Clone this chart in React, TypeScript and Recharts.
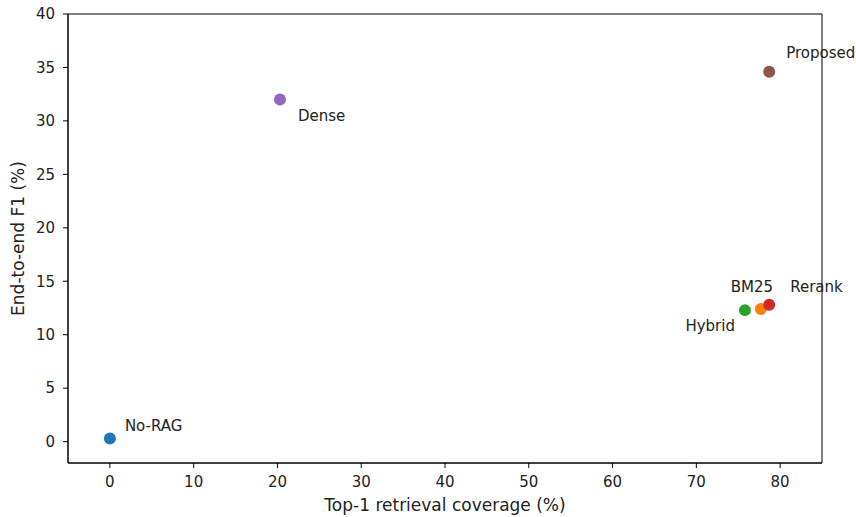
import React from 'react'
import {
  ScatterChart,
  Scatter,
  XAxis,
  YAxis,
  Cell,
  ReferenceArea
} from 'recharts'

const methods = ['No-RAG', 'BM25', 'Hybrid', 'Rerank', 'Dense', 'Proposed']
const coverage = [0, 77.7, 75.8, 78.7, 20.3, 78.7]
const f1 = [0.3, 12.4, 12.3, 12.8, 32.0, 34.6]
const xTicks = [0, 10, 20, 30, 40, 50, 60, 70, 80]
const yTicks = [0, 5, 10, 15, 20, 25, 30, 35, 40]

const colors = ['#1f77b4', '#ff7f0e', '#2ca02c', '#d62728', '#9467bd', '#8c564b']

// where each annotation sits relative to its dot (px)
const labelOffset: Record<string, { dx: number; dy: number; anchor: string }> = {
  'No-RAG': { dx: 15, dy: -7, anchor: 'start' },
  BM25: { dx: -9, dy: -17, anchor: 'middle' },
  Hybrid: { dx: -10, dy: 21, anchor: 'end' },
  Rerank: { dx: 21, dy: -13, anchor: 'start' },
  Dense: { dx: 18, dy: 21, anchor: 'start' },
  Proposed: { dx: 17, dy: -14, anchor: 'start' }
}

const data = methods.map((name, i) => ({ name, x: coverage[i], y: f1[i] }))

const font = "'DejaVu Sans', sans-serif"

const Dot = (props: any) => {
  const { cx, cy, fill, payload } = props
  const off = labelOffset[payload.name]
  return (
    <g>
      <circle cx={cx} cy={cy} r={6} fill={fill} />
      <text
        x={cx + off.dx}
        y={cy + off.dy}
        textAnchor={off.anchor}
        fontSize={15}
        fontFamily={font}
        fill="#222"
      >
        {payload.name}
      </text>
    </g>
  )
}

export default function App() {
  const tickStyle = { fontSize: 15, fontFamily: font, fill: '#222' }
  const labelStyle = { fontSize: 17, fontFamily: font, fill: '#222' }
  return (
    <div style={{ position: 'absolute', left: 0, top: 0, background: '#fff' }}>
      <ScatterChart
        width={856}
        height={517}
        margin={{ top: 14, right: 34, bottom: 0, left: 0 }}
      >
        <XAxis
          type="number"
          dataKey="x"
          domain={[-5, 85]}
          ticks={xTicks}
          height={54}
          tickSize={5}
          tickMargin={8}
          stroke="#000"
          tick={tickStyle}
          label={{
            value: 'Top-1 retrieval coverage (%)',
            position: 'insideBottom',
            offset: 6,
            style: labelStyle
          }}
        />
        <YAxis
          type="number"
          dataKey="y"
          domain={[-2, 40]}
          ticks={yTicks}
          width={68}
          tickSize={5}
          tickMargin={8}
          stroke="#000"
          tick={tickStyle}
          label={{
            value: 'End-to-end F1 (%)',
            angle: -90,
            position: 'insideLeft',
            offset: 18,
            style: { ...labelStyle, textAnchor: 'middle' }
          }}
        />
        <ReferenceArea
          x1={-5}
          x2={85}
          y1={-2}
          y2={40}
          fill="none"
          fillOpacity={0}
          stroke="#000"
          strokeWidth={1}
          strokeOpacity={1}
        />
        <Scatter data={data} isAnimationActive={false} shape={<Dot />}>
          {data.map((d, i) => (
            <Cell key={d.name} fill={colors[i]} />
          ))}
        </Scatter>
      </ScatterChart>
    </div>
  )
}
